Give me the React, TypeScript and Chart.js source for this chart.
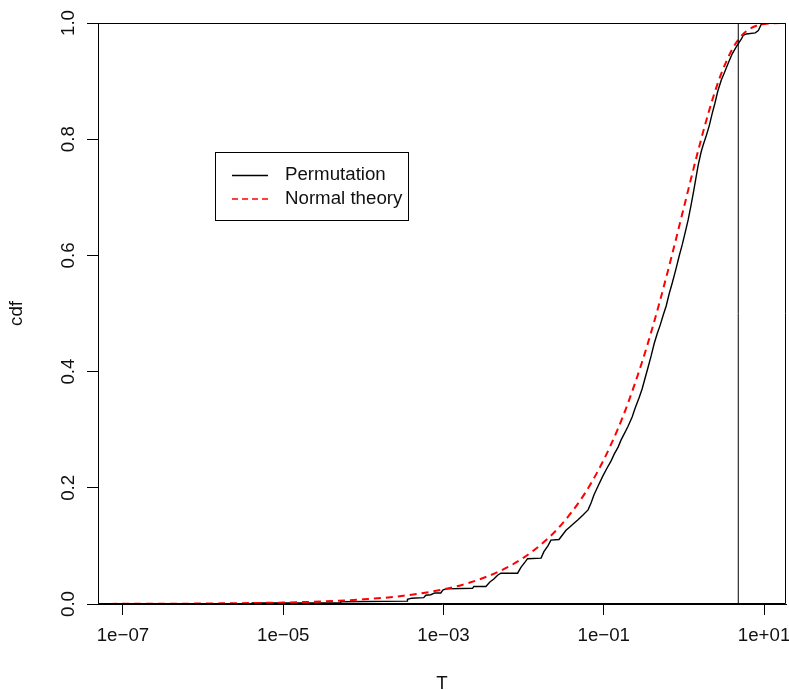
import React, { useEffect, useRef } from "react";
import { Chart, registerables } from "chart.js";

Chart.register(...registerables);

// ---- data ----
const xTickValues = [1e-7, 1e-5, 1e-3, 1e-1, 10];
const xTickLabels = ["1e\u221207", "1e\u221205", "1e\u221203", "1e\u221201", "1e+01"];
const yTickValues = [0, 0.2, 0.4, 0.6, 0.8, 1.0];
const yTickLabels = ["0.0", "0.2", "0.4", "0.6", "0.8", "1.0"];

const xMin = 4.88e-8;
const xMax = 18.8;

// Permutation distribution: empirical CDF outline (T, cdf)
const permT = [
  4.88e-8, 4.1e-6, 4.1e-6, 5.2e-5, 5.2e-5, 3.55e-4, 3.55e-4, 4.02e-4, 5.67e-4, 6.01e-4,
  6.94e-4, 7.78e-4, 9.25e-4, 9.8e-4, 1.07e-3, 2.3e-3, 2.39e-3, 3.38e-3, 3.79e-3, 4.25e-3,
  4.77e-3, 5.2e-3, 8.41e-3, 9.25e-3, 1.04e-2, 1.12e-2, 1.65e-2, 1.79e-2, 2.01e-2, 2.19e-2,
  2.76e-2, 3.1e-2, 3.38e-2, 3.74e-2, 4.25e-2, 4.77e-2, 5.51e-2, 6.37e-2, 6.94e-2, 7.56e-2,
  8.49e-2, 9.72e-2, 0.11, 0.123, 0.135, 0.151, 0.164, 0.182, 0.201, 0.226,
  0.246, 0.276, 0.301, 0.328, 0.358, 0.39, 0.425, 0.464, 0.506, 0.551,
  0.601, 0.655, 0.714, 0.801, 0.873, 0.952, 1.04, 1.13, 1.23, 1.31,
  1.4, 1.51, 1.64, 1.74, 1.9, 2.07, 2.26, 2.43, 2.65, 2.93,
  3.19, 3.58, 4.01, 4.5, 4.91, 5.2, 5.51, 6.01, 7.78, 8.49,
  9.25, 9.8, 18.8,
];
const permCdf = [
  0, 0, 0.002, 0.002, 0.004, 0.005, 0.008, 0.01, 0.011, 0.015,
  0.016, 0.019, 0.019, 0.024, 0.026, 0.027, 0.03, 0.03, 0.038, 0.043,
  0.05, 0.053, 0.053, 0.063, 0.072, 0.078, 0.079, 0.09, 0.1, 0.11,
  0.111, 0.12, 0.127, 0.132, 0.139, 0.145, 0.153, 0.162, 0.174, 0.188,
  0.203, 0.22, 0.234, 0.246, 0.258, 0.27, 0.282, 0.294, 0.306, 0.322,
  0.337, 0.355, 0.37, 0.389, 0.408, 0.427, 0.448, 0.465, 0.48, 0.497,
  0.513, 0.534, 0.552, 0.578, 0.599, 0.618, 0.64, 0.661, 0.687, 0.707,
  0.73, 0.756, 0.778, 0.79, 0.806, 0.823, 0.845, 0.861, 0.883, 0.902,
  0.914, 0.931, 0.947, 0.959, 0.967, 0.972, 0.979, 0.981, 0.983, 0.987,
  0.998, 1.0, 1.0,
];

// Normal theory CDF (T, cdf)
const normT = [
  4.88e-8, 1e-7, 1e-6, 1e-5, 3e-5, 1e-4, 3e-4, 1e-3, 2e-3, 5e-3,
  1e-2, 2e-2, 3e-2, 5e-2, 7e-2, 0.1, 0.15, 0.2, 0.3, 0.4,
  0.5, 0.7, 1, 1.5, 2, 2.5, 3, 4, 5, 6,
  8, 10, 13, 18.8,
];
const normCdf = [
  0.00018, 0.00025, 0.0008, 0.0025, 0.0044, 0.008, 0.0138, 0.0252, 0.0357, 0.0564,
  0.0797, 0.1125, 0.1375, 0.1769, 0.2087, 0.2482, 0.3014, 0.3453, 0.4161, 0.4729,
  0.5205, 0.5972, 0.6827, 0.7793, 0.8427, 0.8862, 0.9167, 0.9545, 0.9747, 0.9857,
  0.9953, 0.9984, 0.9997, 1.0,
];

const observedT = 4.77;

const legendLabels = ["Permutation", "Normal theory"];
const xTitle = "T";
const yTitle = "cdf";

const FONT = "'Liberation Sans', Arial, Helvetica, sans-serif";
const FS = 18.7;

const rPlot = {
  id: "rPlot",
  afterDraw(chart: any) {
    const { ctx, chartArea } = chart;
    const xs = chart.scales.x;
    const ys = chart.scales.y;
    const L = Math.round(chartArea.left) + 0.5;
    const R = Math.round(chartArea.right) - 0.5;
    const T = Math.round(chartArea.top) + 0.5;
    const B = Math.round(chartArea.bottom) - 0.5;
    ctx.save();
    // box
    ctx.strokeStyle = "#000";
    ctx.lineWidth = 1;
    ctx.setLineDash([]);
    ctx.beginPath();
    ctx.moveTo(L, B);
    ctx.lineTo(L, T);
    ctx.lineTo(R, T);
    ctx.lineTo(R, B);
    ctx.lineTo(L, B);
    ctx.stroke();

    ctx.fillStyle = "#111";
    ctx.font = `${FS}px ${FONT}`;
    // x tick labels
    ctx.textAlign = "center";
    ctx.textBaseline = "alphabetic";
    xTickValues.forEach((v, i) => {
      const px = xs.getPixelForValue(v);
      ctx.fillText(xTickLabels[i], px, 641);
    });
    // y tick labels (rotated)
    yTickValues.forEach((v, i) => {
      const py = ys.getPixelForValue(v);
      ctx.save();
      ctx.translate(73.5, py);
      ctx.rotate(-Math.PI / 2);
      ctx.textAlign = "center";
      ctx.textBaseline = "alphabetic";
      ctx.fillText(yTickLabels[i], 0, 0);
      ctx.restore();
    });
    // axis titles
    ctx.textAlign = "center";
    ctx.textBaseline = "alphabetic";
    ctx.fillText(xTitle, (chartArea.left + chartArea.right) / 2, 689);
    ctx.save();
    ctx.translate(22, (chartArea.top + chartArea.bottom) / 2);
    ctx.rotate(-Math.PI / 2);
    ctx.fillText(yTitle, 0, 0);
    ctx.restore();

    // legend
    ctx.strokeStyle = "#000";
    ctx.lineWidth = 1;
    ctx.strokeRect(215.5, 152.5, 193, 68);
    ctx.beginPath();
    ctx.lineWidth = 1.3;
    ctx.moveTo(232, 175.5);
    ctx.lineTo(268, 175.5);
    ctx.stroke();
    ctx.beginPath();
    ctx.strokeStyle = "rgb(255,0,0)";
    ctx.lineWidth = 1.3;
    ctx.setLineDash([6, 4]);
    ctx.moveTo(232, 199);
    ctx.lineTo(268, 199);
    ctx.stroke();
    ctx.setLineDash([]);
    ctx.fillStyle = "#111";
    ctx.textAlign = "left";
    ctx.textBaseline = "middle";
    ctx.fillText(legendLabels[0], 285, 175);
    ctx.fillText(legendLabels[1], 285, 199);
    ctx.restore();
  },
};

export default function App() {
  const ref = useRef<HTMLCanvasElement | null>(null);
  useEffect(() => {
    if (!ref.current) return;
    const chart = new Chart(ref.current, {
      type: "line",
      data: {
        datasets: [
          {
            label: legendLabels[0],
            data: permT.map((t, i) => ({ x: t, y: permCdf[i] })),
            borderColor: "#000",
            borderWidth: 1.4,
            pointRadius: 0,
            tension: 0,
            fill: false,
            order: 3,
          },
          {
            label: legendLabels[1],
            data: normT.map((t, i) => ({ x: t, y: normCdf[i] })),
            borderColor: "#ff0000",
            borderWidth: 2,
            borderDash: [7, 5],
            pointRadius: 0,
            cubicInterpolationMode: "monotone",
            fill: false,
            order: 2,
          },
          {
            label: "observed",
            data: [
              { x: observedT, y: 0 },
              { x: observedT, y: 1 },
            ],
            borderColor: "#000",
            borderWidth: 1,
            pointRadius: 0,
            fill: false,
            order: 1,
          },
        ],
      },
      options: {
        animation: false,
        responsive: false,
        devicePixelRatio: 1,
        layout: { padding: { top: 23, right: 3, left: 0, bottom: 0 } },
        plugins: { legend: { display: false }, tooltip: { enabled: false }, title: { display: false } },
        scales: {
          x: {
            type: "logarithmic",
            min: xMin,
            max: xMax,
            afterBuildTicks: (s: any) => {
              s.ticks = xTickValues.map((v) => ({ value: v }));
            },
            afterFit: (s: any) => {
              s.height = 86;
            },
            ticks: { display: false },
            grid: { drawOnChartArea: false, drawTicks: true, tickLength: 11, tickColor: "#000", tickWidth: 1 },
            border: { display: true, color: "#000", width: 1 },
          },
          y: {
            type: "linear",
            min: 0,
            max: 1,
            afterBuildTicks: (s: any) => {
              s.ticks = yTickValues.map((v) => ({ value: v }));
            },
            afterFit: (s: any) => {
              s.width = 98;
            },
            ticks: { display: false },
            grid: { drawOnChartArea: false, drawTicks: true, tickLength: 11, tickColor: "#000", tickWidth: 1 },
            border: { display: true, color: "#000", width: 1 },
          },
        },
      },
      plugins: [rPlot],
    });
    return () => chart.destroy();
  }, []);
  return (
    <div style={{ position: "absolute", left: 0, top: 0, width: 789, height: 690, background: "#fff" }}>
      <canvas ref={ref} width={789} height={690} style={{ display: "block" }} />
    </div>
  );
}
